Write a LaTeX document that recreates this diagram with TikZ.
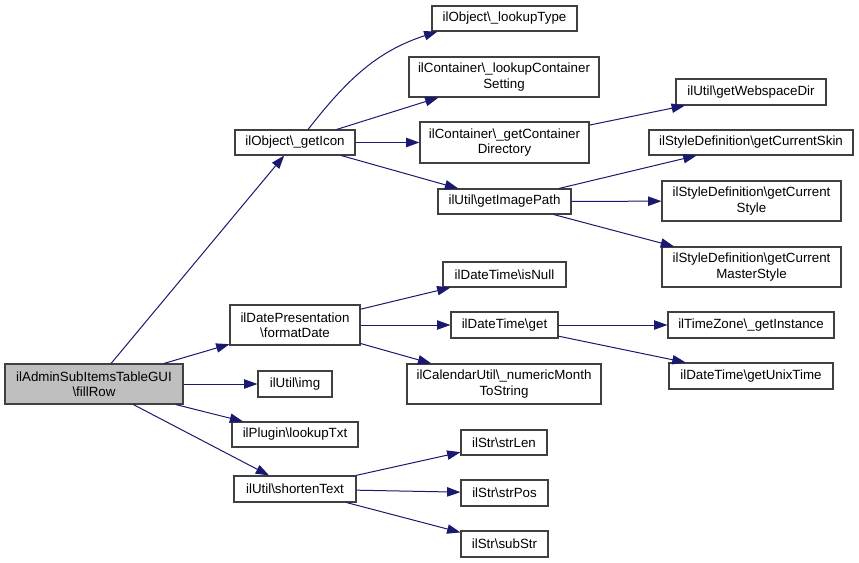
\documentclass[tikz,border=0pt]{standalone}
\usepackage{fontspec}
\setmainfont{Liberation Sans}
\usetikzlibrary{arrows.meta}
\definecolor{edgeblue}{RGB}{25,25,112}
\definecolor{boxgray}{RGB}{64,64,64}
\definecolor{rootfill}{RGB}{191,191,191}
\newcommand{\mybs}{\textbackslash{}}
\begin{document}
\begin{tikzpicture}[x=0.75pt,y=-0.75pt,
  fn/.style={draw=boxgray, line width=0.8pt, inner sep=0pt, align=center,
    font=\fontsize{10}{11.5}\selectfont, fill=white},
  rootnode/.style={fn, fill=rootfill},
  call/.style={draw=edgeblue, line width=0.75pt, -{Triangle[length=10pt,width=7pt]}}]
\fill[white] (0,0) rectangle (859,563);
\useasboundingbox (0,0) rectangle (859,563);
\newcommand{\bx}[6]{\node[#1, minimum width={#4*0.75pt}, minimum height={#5*0.75pt}] (#2) at (#3) {#6};}
\bx{rootnode}{root}{94,384}{178}{40}{ilAdminSubItemsTableGUI\\\mybs fillRow}
\bx{fn}{getIcon}{295,142.5}{120}{25}{ilObject\mybs\_getIcon}
\bx{fn}{lookupType}{504.5,18.5}{145}{25}{ilObject\mybs\_lookupType}
\bx{fn}{lookupCS}{504,77}{190}{40}{ilContainer\mybs\_lookupContainer\\Setting}
\bx{fn}{getCD}{504.5,142.5}{169}{41}{ilContainer\mybs\_getContainer\\Directory}
\bx{fn}{getWD}{751,92}{150}{26}{ilUtil\mybs getWebspaceDir}
\bx{fn}{getSkin}{751,142.5}{204}{25}{ilStyleDefinition\mybs getCurrentSkin}
\bx{fn}{getIP}{504.5,201.5}{133}{25}{ilUtil\mybs getImagePath}
\bx{fn}{getStyle}{751.5,201}{179}{40}{ilStyleDefinition\mybs getCurrent\\Style}
\bx{fn}{getMaster}{751.5,267}{179}{40}{ilStyleDefinition\mybs getCurrent\\MasterStyle}
\bx{fn}{formatDate}{295,325}{130}{40}{ilDatePresentation\\\mybs formatDate}
\bx{fn}{isNull}{504.5,274.5}{123}{25}{ilDateTime\mybs isNull}
\bx{fn}{dtGet}{504.5,325}{107}{26}{ilDateTime\mybs get}
\bx{fn}{numMonth}{504,384}{194}{40}{ilCalendarUtil\mybs\_numericMonth\\ToString}
\bx{fn}{tz}{751,325}{166}{26}{ilTimeZone\mybs\_getInstance}
\bx{fn}{unix}{751,376}{164}{26}{ilDateTime\mybs getUnixTime}
\bx{fn}{img}{295,384}{74}{26}{ilUtil\mybs img}
\bx{fn}{lookupTxt}{295,434.5}{126}{25}{ilPlugin\mybs lookupTxt}
\bx{fn}{shorten}{295,489}{122}{26}{ilUtil\mybs shortenText}
\bx{fn}{strLen}{504,442.5}{86}{25}{ilStr\mybs strLen}
\bx{fn}{strPos}{504.5,493}{87}{26}{ilStr\mybs strPos}
\bx{fn}{subStr}{504.5,544}{87}{26}{ilStr\mybs subStr}
% edges
\draw[call] (root) -- (getIcon);
\draw[call] (root) -- (formatDate);
\draw[call] (root) -- (img);
\draw[call] (root) -- (lookupTxt);
\draw[call] (root) -- (shorten);
\draw[call] (getIcon.45) to[out=52,in=198] (lookupType.191);
\draw[call] (getIcon) -- (lookupCS);
\draw[call] (getIcon) -- (getCD);
\draw[call] (getIcon) -- (getIP);
\draw[call] (getCD) -- (getWD);
\draw[call] (getIP) -- (getSkin);
\draw[call] (getIP) -- (getStyle);
\draw[call] (getIP) -- (getMaster);
\draw[call] (formatDate) -- (isNull);
\draw[call] (formatDate) -- (dtGet);
\draw[call] (formatDate) -- (numMonth);
\draw[call] (dtGet) -- (tz);
\draw[call] (dtGet) -- (unix);
\draw[call] (shorten) -- (strLen);
\draw[call] (shorten) -- (strPos);
\draw[call] (shorten) -- (subStr);
\end{tikzpicture}
\end{document}
